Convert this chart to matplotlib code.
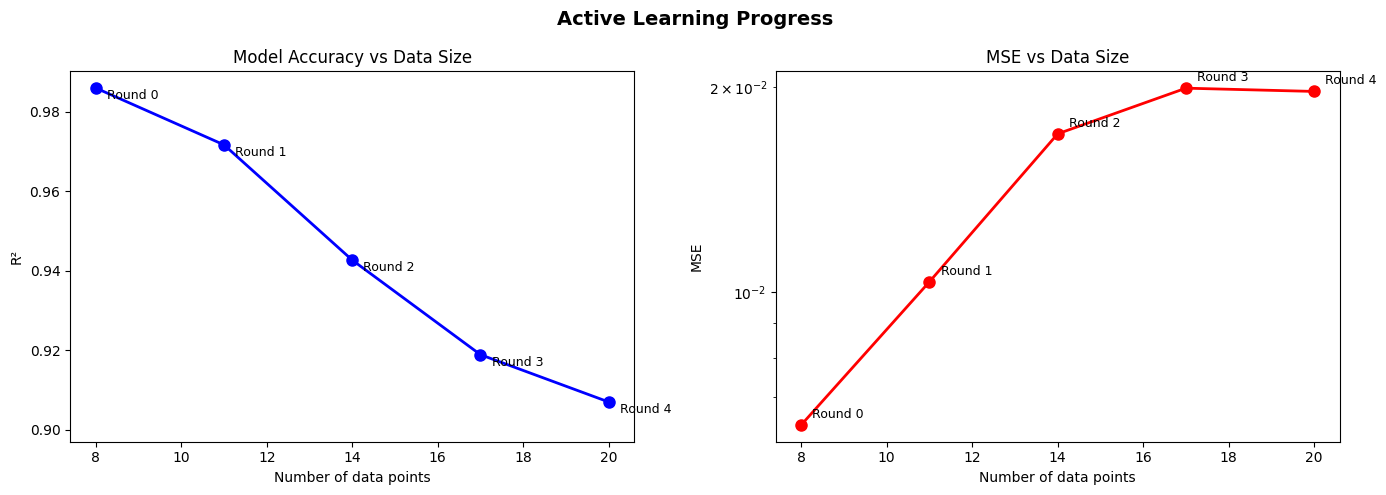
import matplotlib
matplotlib.use('Agg')
import matplotlib.pyplot as plt

# data
n_points = [8, 11, 14, 17, 20]
r2_scores = [0.9860, 0.9717, 0.9427, 0.9189, 0.9070]
mse_scores = [0.00637, 0.01035, 0.01709, 0.01995, 0.01973]
round_labels = ['Round 0', 'Round 1', 'Round 2', 'Round 3', 'Round 4']

fig, (ax1, ax2) = plt.subplots(1, 2, figsize=(14, 5), dpi=100)

# ── R² vs data size ──────────────────────────────────────────────
ax1.plot(n_points, r2_scores, 'bo-', linewidth=2, markersize=8)
for x, y, lab in zip(n_points, r2_scores, round_labels):
    ax1.annotate(lab, (x, y), textcoords='offset points', xytext=(8, -8), fontsize=9)
ax1.set_ylim(min(r2_scores) - 0.01, 0.9902)
ax1.set_xlabel('Number of data points')
ax1.set_ylabel('R²')
ax1.set_title('Model Accuracy vs Data Size')

# ── MSE vs data size (log) ───────────────────────────────────────
ax2.plot(n_points, mse_scores, 'ro-', linewidth=2, markersize=8)
for x, y, lab in zip(n_points, mse_scores, round_labels):
    ax2.annotate(lab, (x, y), textcoords='offset points', xytext=(8, 5), fontsize=9)
ax2.set_yscale('log')
ax2.set_xlabel('Number of data points')
ax2.set_ylabel('MSE')
ax2.set_title('MSE vs Data Size')

plt.suptitle('Active Learning Progress', fontsize=14, fontweight='bold')
plt.tight_layout()
plt.savefig('out.png', bbox_inches='tight')
plt.close()
